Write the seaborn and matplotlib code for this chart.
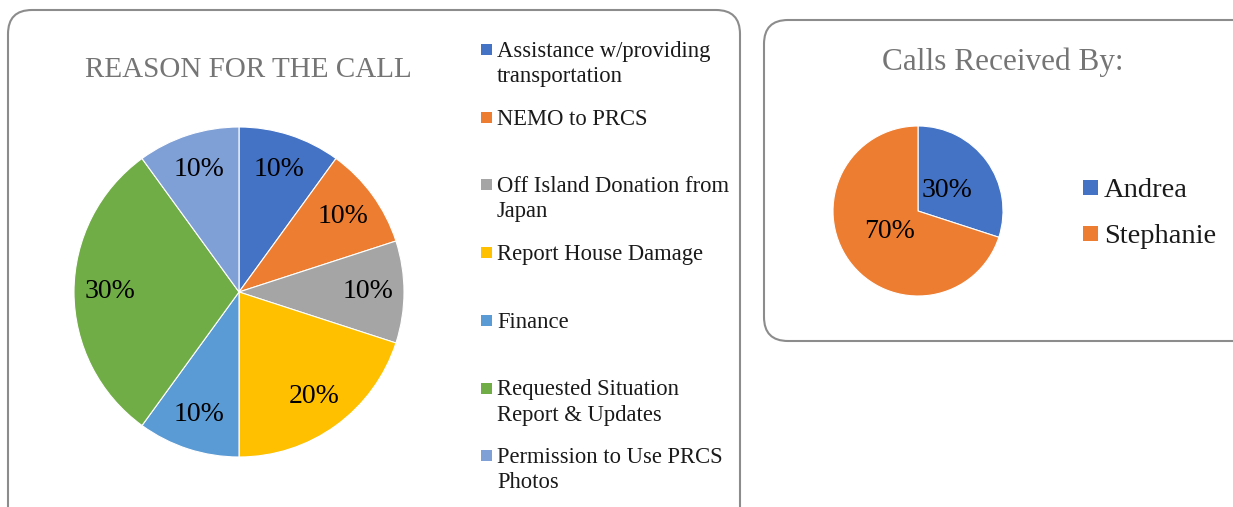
import matplotlib
matplotlib.use("Agg")
import matplotlib.pyplot as plt
from matplotlib.patches import FancyBboxPatch, Rectangle
import seaborn as sns

# ---- data ----
reason_labels = [
    "Assistance w/providing\ntransportation",
    "NEMO to PRCS",
    "Off Island Donation from\nJapan",
    "Report House Damage",
    "Finance",
    "Requested Situation\nReport & Updates",
    "Permission to Use PRCS\nPhotos",
]
reason_pct = [10, 10, 10, 20, 10, 30, 10]
staff_labels = ["Andrea", "Stephanie"]
staff_pct = [30, 70]

reason_colors = sns.color_palette(["#4472C4", "#ED7D31", "#A5A5A5", "#FFC000",
                                   "#5B9BD5", "#70AD47", "#7F9FD7"])
staff_colors = sns.color_palette(["#4472C4", "#ED7D31"])

sns.set_theme(style="white")
plt.rcParams["font.family"] = ["Liberation Serif", "DejaVu Serif"]

W, H = 1233, 507
fig = plt.figure(figsize=(W / 100, H / 100), dpi=100)
fig.patch.set_facecolor("white")

# overlay axes in pixel coordinates (y downwards)
ov = fig.add_axes([0, 0, 1, 1], zorder=0)
ov.set_xlim(0, W)
ov.set_ylim(H, 0)
ov.axis("off")
ov.patch.set_alpha(0)

box_kw = dict(boxstyle="round,pad=0,rounding_size=24", facecolor="white",
              edgecolor="#8C8C8C", linewidth=1.5)
ov.add_patch(FancyBboxPatch((8, 10), 732, 530, **box_kw))
ov.add_patch(FancyBboxPatch((764, 20), 520, 321, **box_kw))

# titles
ov.text(248, 77, "REASON FOR THE CALL", ha="center", va="baseline",
        fontsize=21, color="#757575")
ov.text(1003, 70, "Calls Received By:", ha="center", va="baseline",
        fontsize=22.5, color="#757575")

def pix_axes(cx, cy, r):
    return fig.add_axes([(cx - r) / W, (H - cy - r) / H, 2 * r / W, 2 * r / H], zorder=2)

# left pie
ax1 = pix_axes(239, 292, 165)
ax1.pie(reason_pct, colors=reason_colors, startangle=90, counterclock=False,
        radius=1, autopct=lambda p: f"{p:.0f}%", pctdistance=0.78,
        wedgeprops=dict(edgecolor="white", linewidth=0.8),
        textprops=dict(fontsize=20, color="black"))
ax1.set_xlim(-1, 1)
ax1.set_ylim(-1, 1)
ax1.set_aspect("equal")
ax1.axis("off")

# right pie
ax2 = pix_axes(918, 211, 85)
ax2.pie(staff_pct, colors=staff_colors, startangle=90, counterclock=False,
        radius=1, autopct=lambda p: f"{p:.0f}%", pctdistance=0.42,
        wedgeprops=dict(edgecolor="white", linewidth=0.8),
        textprops=dict(fontsize=20, color="black"))
ax2.set_xlim(-1, 1)
ax2.set_ylim(-1, 1)
ax2.set_aspect("equal")
ax2.axis("off")

# left legend (entries evenly spaced, lines 25 px apart)
first_base = 57
step = 67.7
line_gap = 25
for i, (lab, col) in enumerate(zip(reason_labels, reason_colors)):
    yb = first_base + i * step
    ov.add_patch(Rectangle((481, yb - 13), 11, 11, facecolor=col, edgecolor="none"))
    for k, line in enumerate(lab.split("\n")):
        ov.text(497, yb + k * line_gap, line, ha="left", va="baseline",
                fontsize=16.3, color="#1a1a1a")

# right legend
for i, (lab, col) in enumerate(zip(staff_labels, staff_colors)):
    yb = 197 + i * 46
    ov.add_patch(Rectangle((1083, yb - 17), 15, 15, facecolor=col, edgecolor="none"))
    ov.text(1104, yb, lab, ha="left", va="baseline", fontsize=20.5, color="#1a1a1a")

fig.savefig("out.png", dpi=100)
